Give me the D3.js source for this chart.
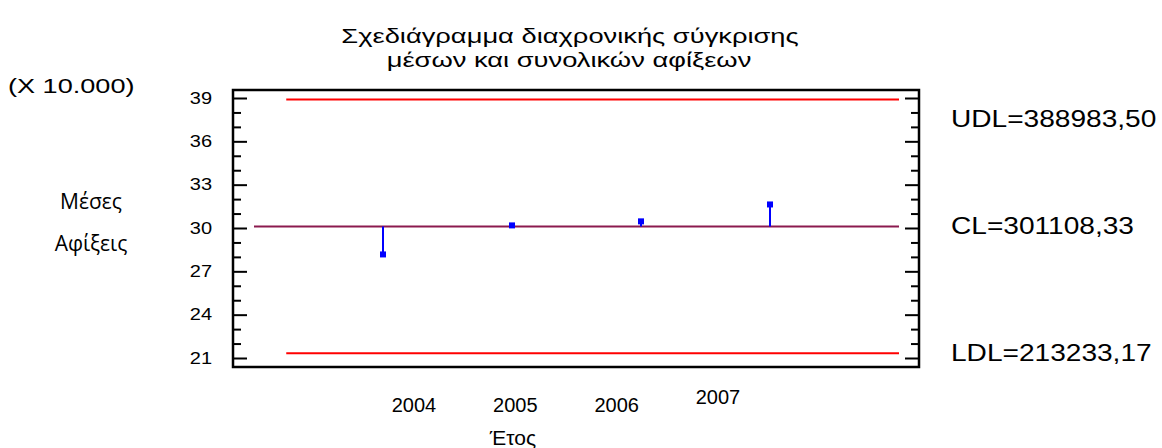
<!DOCTYPE html>
<html>
<head>
<meta charset="utf-8">
<script src="https://cdn.jsdelivr.net/npm/d3@7"></script>
<style>
  body { margin: 0; background: #fff; }
  text { font-family: "Liberation Sans", Arial, sans-serif; fill: #000; }
</style>
</head>
<body>
<div class="chart"></div>
<script>
// data (means in units of 10.000)
var years = [2004, 2005, 2006, 2007];
var means = [28.17, 30.18, 30.46, 31.63];
var limitNames = ["UDL", "CL", "LDL"];
var limitValues = [38.89835, 30.110833, 21.323317];
var limitLabels = ["UDL=388983,50", "CL=301108,33", "LDL=213233,17"];
var yTicks = [21, 24, 27, 30, 33, 36, 39];

var svgWidth = 1162;
var svgHeight = 448;

// plot frame
var frame = { left: 233, right: 919, top: 90, bottom: 367 };

var svg = d3.select(".chart")
  .append("svg")
  .attr("width", svgWidth)
  .attr("height", svgHeight);

svg.append("rect")
  .attr("width", svgWidth)
  .attr("height", svgHeight)
  .attr("fill", "#fff");

// the original's text is drawn a bit wider than normal Arial
function stretch(sel, k) {
  sel.each(function () {
    var w = this.getComputedTextLength();
    d3.select(this)
      .attr("textLength", w * k)
      .attr("lengthAdjust", "spacingAndGlyphs");
  });
  return sel;
}

// scales
var x_scale = d3.scaleLinear().domain([2004, 2007]).range([383, 770]);
var y_scale = d3.scaleLinear().domain([21, 39]).range([358, 98]);
// the year labels are not aligned with the points in the original
var label_scale = d3.scaleLinear().domain([2004, 2007]).range([414, 718]);

var minorTicks = d3.range(21, 40, 1).filter(d => yTicks.indexOf(d) < 0);

// ticks on both sides (pointing inward)
function tickAxis(axis, size, values) {
  return axis(y_scale).tickValues(values).tickSize(size).tickFormat("");
}
[[d3.axisRight, frame.left, 14, yTicks], [d3.axisRight, frame.left, 8, minorTicks],
 [d3.axisLeft, frame.right, 14, yTicks], [d3.axisLeft, frame.right, 8, minorTicks]]
  .forEach(function (t) {
    var g = svg.append("g")
      .attr("transform", `translate(${t[1]}, 0)`)
      .call(tickAxis(t[0], t[2], t[3]));
    g.select(".domain").remove();
    g.selectAll("line").attr("stroke", "#000").attr("stroke-width", 2);
  });

// tick labels
var leftLabels = svg.append("g")
  .attr("transform", `translate(${frame.left - 21}, 0)`)
  .call(d3.axisLeft(y_scale).tickValues(yTicks).tickSize(0).tickPadding(0));
leftLabels.select(".domain").remove();
leftLabels.selectAll("text")
  .attr("font-size", 16)
  .attr("font-family", "Liberation Sans, Arial, sans-serif");
stretch(leftLabels.selectAll("text"), 1.25);

// frame
svg.append("rect")
  .attr("x", frame.left)
  .attr("y", frame.top)
  .attr("width", frame.right - frame.left)
  .attr("height", frame.bottom - frame.top)
  .attr("fill", "none")
  .attr("stroke", "#000")
  .attr("stroke-width", 2.5);

// control limit lines
var lineStart = [2003.25, 2003, 2003.25];
var lineColor = ["#ff0000", "#8b1a4f", "#ff0000"];
limitValues.forEach(function (v, i) {
  svg.append("line")
    .attr("x1", x_scale(lineStart[i]))
    .attr("x2", x_scale(2008))
    .attr("y1", y_scale(v))
    .attr("y2", y_scale(v))
    .attr("stroke", lineColor[i])
    .attr("stroke-width", 2);
});

// stems from center line to the means
svg.selectAll(".stem")
  .data(years)
  .enter()
  .append("line")
  .attr("class", "stem")
  .attr("x1", d => x_scale(d))
  .attr("x2", d => x_scale(d))
  .attr("y1", y_scale(limitValues[1]))
  .attr("y2", (d, i) => y_scale(means[i]))
  .attr("stroke", "#0000ff")
  .attr("stroke-width", 2);

svg.selectAll(".dot")
  .data(years)
  .enter()
  .append("rect")
  .attr("class", "dot")
  .attr("x", d => x_scale(d) - 3)
  .attr("y", (d, i) => y_scale(means[i]) - 3)
  .attr("width", 6)
  .attr("height", 6)
  .attr("fill", "#0000ff");

// x labels
svg.selectAll(".xlabel")
  .data(years)
  .enter()
  .append("text")
  .attr("class", "xlabel")
  .attr("x", d => label_scale(d))
  .attr("y", d => d === 2007 ? 404 : 412)
  .attr("text-anchor", "middle")
  .attr("font-size", 20)
  .text(d => d);

// right-hand limit labels
limitLabels.forEach(function (t, i) {
  var lbl = svg.append("text")
    .attr("x", 951)
    .attr("y", (i === 0 ? 119 : y_scale(limitValues[i])) + 8)
    .attr("font-size", 24)
    .text(t);
  stretch(lbl, 1.17);
});

// titles
stretch(svg.append("text")
  .attr("x", 570).attr("y", 43)
  .attr("text-anchor", "middle")
  .attr("font-size", 21)
  .text("Σχεδιάγραμμα διαχρονικής σύγκρισης"), 1.3);
stretch(svg.append("text")
  .attr("x", 569).attr("y", 67)
  .attr("text-anchor", "middle")
  .attr("font-size", 21)
  .text("μέσων και συνολικών αφίξεων"), 1.3);

stretch(svg.append("text")
  .attr("x", 8).attr("y", 93)
  .attr("font-size", 21)
  .text("(X 10.000)"), 1.29);

svg.append("text")
  .attr("x", 91).attr("y", 209)
  .attr("text-anchor", "middle")
  .attr("font-size", 21)
  .style("font-family", "Open Sans, sans-serif")
  .text("Μέσες");
svg.append("text")
  .attr("x", 91).attr("y", 251)
  .attr("text-anchor", "middle")
  .attr("font-size", 21)
  .style("font-family", "Open Sans, sans-serif")
  .text("Αφίξεις");

svg.append("text")
  .attr("x", 513).attr("y", 445)
  .attr("text-anchor", "middle")
  .attr("font-size", 21)
  .text("Έτος");
</script>
</body>
</html>
